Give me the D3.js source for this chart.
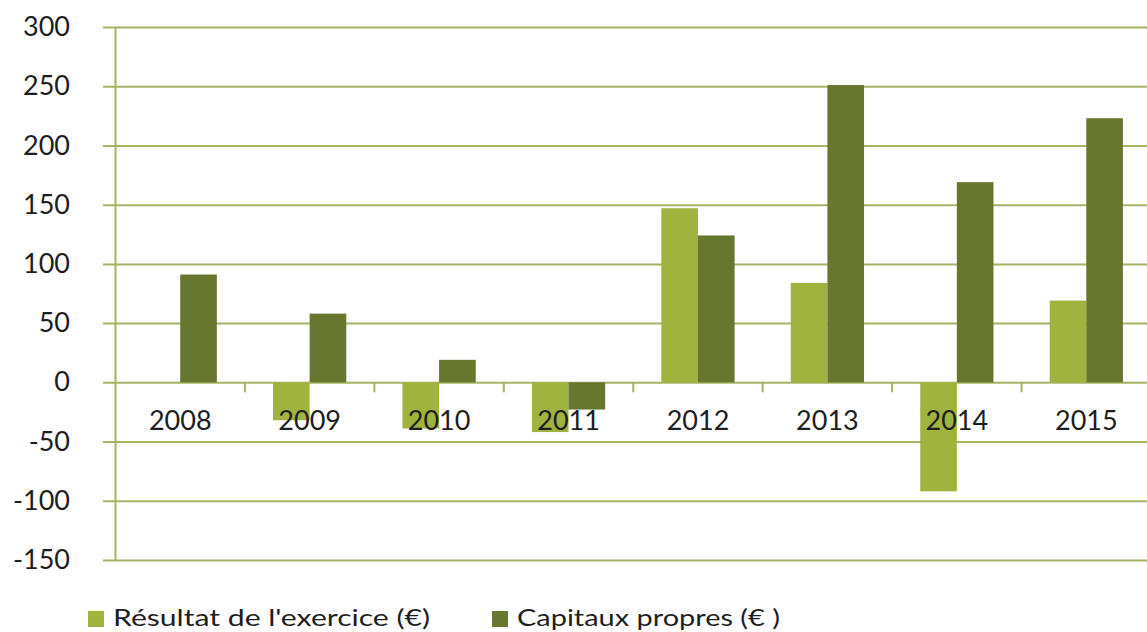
<!DOCTYPE html>
<html lang="en">
  <head>
    <meta charset="UTF-8" />
    <title>Résultat et capitaux propres</title>
    <style>
      body { margin: 0; background: #fff; }
      text { font-family: "Lato", "Liberation Sans", sans-serif; fill: #1e1e1e; }
      .grid line { stroke: #a6b464; stroke-width: 2px; }
      .grid path { display: none; }
    </style>
  </head>
  <body>
    <script src="https://cdn.jsdelivr.net/npm/d3@7"></script>
    <script>
      var years = ["2008", "2009", "2010", "2011", "2012", "2013", "2014", "2015"];
      var resultat = [0, -32, -39, -42, 147, 84, -92, 69];
      var capitaux = [91, 58, 19, -23, 124, 251, 169, 223];
      var yTicks = [-150, -100, -50, 0, 50, 100, 150, 200, 250, 300];
      var seriesNames = ["Résultat de l'exercice (€)", "Capitaux propres (€ )"];
      var colors = ["#a0b33e", "#67772f"];

      var w = 1147, h = 632;

      var svg = d3.select("body").append("svg")
                  .attr("width", w)
                  .attr("height", h);

      var x = d3.scaleBand()
                .domain(years)
                .range([115.5, 1151])
                .padding(0);

      var y = d3.scaleLinear()
                .domain([-150, 300])
                .range([560, 27]);

      var barW = x.bandwidth() * 0.283;

      // gridlines
      svg.append("g")
         .attr("class", "grid")
         .attr("transform", "translate(" + w + ",0)")
         .call(d3.axisLeft(y).tickValues(yTicks).tickSize(w - 103).tickFormat(""));

      // vertical axis line
      svg.append("line")
         .attr("x1", 115.5).attr("x2", 115.5)
         .attr("y1", y(300)).attr("y2", y(-150))
         .attr("stroke", "#a6b464")
         .attr("stroke-width", 2);

      // y labels (plain hyphen for negatives, like the original)
      var yAxis = svg.append("g")
         .attr("transform", "translate(115,0)")
         .call(d3.axisLeft(y).tickValues(yTicks).tickSize(0).tickPadding(45).tickFormat(String));
      yAxis.select(".domain").remove();
      yAxis.selectAll("text")
           .style("font-size", "27px")
           .style("font-family", "Lato, 'Liberation Sans', sans-serif")
           .attr("fill", "#1e1e1e");

      // bars
      var rows = years.map(function(d, i) {
        return { year: d, vals: [resultat[i], capitaux[i]] };
      });

      var groups = svg.selectAll(".yr")
                      .data(rows)
                      .enter()
                      .append("g")
                      .attr("class", "yr");

      groups.selectAll("rect")
            .data(function(d) { return d.vals.map(function(v, k) { return { year: d.year, v: v, k: k }; }); })
            .enter()
            .append("rect")
            .attr("x", function(d) {
              var c = x(d.year) + x.bandwidth() / 2;
              return d.k === 0 ? c - barW : c;
            })
            .attr("y", function(d) { return y(Math.max(0, d.v)); })
            .attr("width", barW)
            .attr("height", function(d) { return Math.abs(y(d.v) - y(0)); })
            .attr("fill", function(d) { return colors[d.k]; });

      // category boundary ticks on the zero line
      var bounds = years.map(function(d) { return x(d); }).slice(1);
      svg.selectAll(".xtick")
         .data(bounds)
         .enter()
         .append("line")
         .attr("class", "xtick")
         .attr("x1", function(d) { return d; })
         .attr("x2", function(d) { return d; })
         .attr("y1", y(0))
         .attr("y2", y(0) + 10)
         .attr("stroke", "#a6b464")
         .attr("stroke-width", 2);

      // x labels
      var xAxis = svg.append("g")
         .attr("transform", "translate(0," + y(0) + ")")
         .call(d3.axisBottom(x).tickSize(0).tickPadding(29));
      xAxis.select(".domain").remove();
      xAxis.selectAll("text")
           .style("font-size", "27px")
           .style("font-family", "Lato, 'Liberation Sans', sans-serif")
           .attr("fill", "#1e1e1e");

      // legend
      var legendX = [88, 492];
      var legendTextW = [317, 263];
      var legend = svg.selectAll(".leg")
                      .data(seriesNames)
                      .enter()
                      .append("g")
                      .attr("class", "leg")
                      .attr("transform", function(d, i) { return "translate(" + legendX[i] + ",611)"; });
      legend.append("rect")
            .attr("width", 16)
            .attr("height", 16)
            .attr("fill", function(d, i) { return colors[i]; });
      legend.append("text")
            .attr("x", 25)
            .attr("y", 15)
            .attr("textLength", function(d, i) { return legendTextW[i]; })
            .attr("lengthAdjust", "spacingAndGlyphs")
            .style("font-size", "24px")
            .text(function(d) { return d; });
    </script>
  </body>
</html>
